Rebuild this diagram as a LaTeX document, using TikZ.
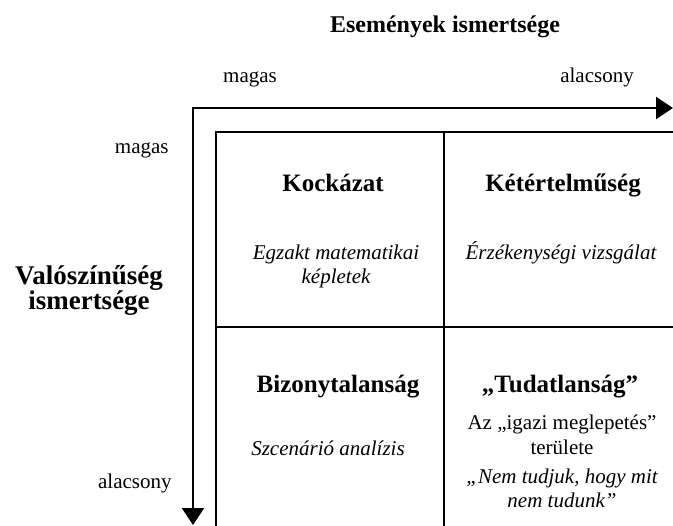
\documentclass[tikz,border=0pt]{standalone}
\usepackage{fontspec}
\setmainfont{Liberation Serif}
\usetikzlibrary{arrows.meta,positioning}
\tikzset{
  mx/head/.style={font=\bfseries\fontsize{12.5}{15}\selectfont, anchor=base, inner sep=0pt},
  mx/method/.style={font=\itshape\fontsize{10.5}{12}\selectfont, align=center, anchor=base, inner sep=0pt},
  mx/text/.style={font=\fontsize{10.5}{12.5}\selectfont, align=center, anchor=base, inner sep=0pt},
  mx/grid/.style={line width=0.8pt},
  ax/label/.style={font=\fontsize{10.5}{12}\selectfont, inner sep=0pt},
  ax/title/.style={font=\bfseries\fontsize{12}{12.5}\selectfont, align=center, anchor=base, inner sep=0pt},
  ax/line/.style={line width=1.2pt, {Triangle[length=8.5pt,width=11pt]}-{Triangle[length=8.5pt,width=11pt]}}
}

\begin{document}
\begin{tikzpicture}[x=0.5pt,y=-0.5pt]
    \useasboundingbox (0,0) rectangle (673,525);
    \clip (0,0) rectangle (673,525);
    % axes
    \coordinate (xend) at (673,108);
    \coordinate (yend) at (193,525);
    \draw[ax/line] (yend) |- (xend);
    \node[ax/title] (events) at (445,32) {Események ismertsége};
    \node[ax/label,anchor=base] (xhigh) at (250,82) {magas};
    \node[ax/label,anchor=base] (xlow) at (597,82) {alacsony};
    \node[ax/title,font=\bfseries\fontsize{13.5}{12.5}\selectfont] (prob) at (89,309) {Valószínűség\\ismertsége};
    \node[ax/label,anchor=base east] (yhigh) at (169,153) {magas};
    \node[ax/label,anchor=base east] (ylow) at (172,488) {alacsony};
    % matrix
    \draw[mx/grid] (216,560) |- (700,132);
    \draw[mx/grid] (444,132) -- (444,560);
    \draw[mx/grid] (216,327) -- (700,327);
    \node[mx/head] (kock) at (333,191) {Kockázat};
    \node[mx/head] (ketert) at (563,191) {Kétértelműség};
    \node[mx/method] (egzakt) at (336,283) {Egzakt matematikai\\képletek};
    \node[mx/method] (erzek) at (561,259) {Érzékenységi vizsgálat};
    \node[mx/head] (bizony) at (338,392) {Bizonytalanság};
    \node[mx/head] (tudatl) at (560,392) {„Tudatlanság”};
    \node[mx/method] (szcen) at (328,455) {Szcenárió analízis};
    \node[mx/text] (igazi) at (562,454) {Az „igazi meglepetés”\\területe};
    \node[mx/method] (nemtud) at (562,507) {„Nem tudjuk, hogy mit\\nem tudunk”};
\end{tikzpicture}
\end{document}
